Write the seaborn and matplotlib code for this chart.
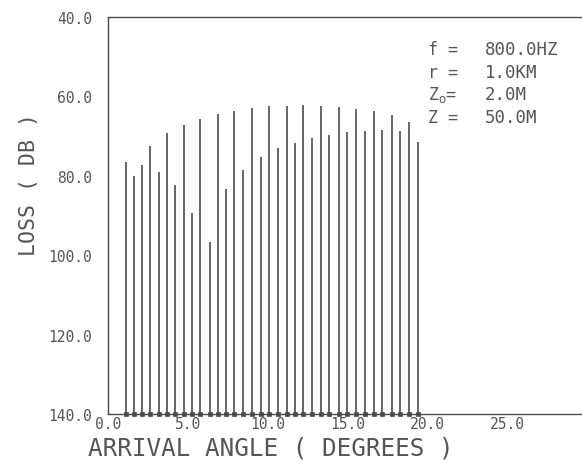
import matplotlib
matplotlib.use("Agg")
import matplotlib.pyplot as plt
import seaborn as sns
import pandas as pd

# ---- data ----
angles = [1.10, 1.60, 2.12, 2.62, 3.15, 3.67, 4.19, 4.71, 5.25, 5.74,
          6.34, 6.85, 7.39, 7.89, 8.43, 8.98, 9.54, 10.06, 10.61, 11.17,
          11.69, 12.21, 12.76, 13.32, 13.84, 14.43, 14.95, 15.49, 16.08, 16.63,
          17.17, 17.76, 18.28, 18.86, 19.42]
losses = [76.4, 80.0, 77.3, 72.6, 79.0, 69.2, 82.2, 67.2, 89.4, 65.7,
          96.6, 64.4, 83.3, 63.6, 78.5, 63.0, 75.3, 62.5, 73.1, 62.3,
          71.7, 62.1, 70.5, 62.3, 69.6, 62.6, 68.9, 63.2, 68.6, 63.8,
          68.4, 64.7, 68.6, 66.5, 71.4]
x_ticks = [0, 5, 10, 15, 20, 25]
x_tick_labels = ["0.0", "5.0", "10.0", "15.0", "20.0", "25.0"]
y_ticks = [40, 60, 80, 100, 120, 140]
y_tick_labels = ["40.0", "60.0", "80.0", "100.0", "120.0", "140.0"]
param_names = ["f =", "r =", "Z$_\\mathrm{o}$=", "Z ="]
param_values = ["800.0HZ", "1.0KM", "2.0M", "50.0M"]
baseline = 140.0

df = pd.DataFrame({"angle": angles, "loss": losses})
df["base"] = baseline

sns.set_style("white")
MONO = ["DejaVu Sans Mono", "DejaVu Sans"]
plt.rcParams["font.family"] = MONO
INK = "#4a4a4a"
TXT = "#555555"

fig = plt.figure(figsize=(5.82, 4.64), dpi=100)
ax = fig.add_axes([0.1864, 0.1056, 0.8222, 0.8556])

ax.vlines(df["angle"], df["base"], df["loss"], colors=INK, linewidth=1.2)
sns.scatterplot(data=df, x="angle", y="base", ax=ax, marker="s", s=9,
                color=INK, edgecolor=INK, linewidth=0.5, clip_on=False,
                zorder=3, legend=False)

ax.set_xlim(0, 30)
ax.set_ylim(140, 40)
ax.set_xticks(x_ticks)
ax.set_xticklabels(x_tick_labels)
ax.set_yticks(y_ticks)
ax.set_yticklabels(y_tick_labels)
ax.tick_params(axis="both", direction="in", colors=INK, labelcolor=TXT,
               labelsize=10.5, width=1.0)
ax.tick_params(axis="y", length=7, pad=12)
ax.tick_params(axis="x", length=5, pad=1.5)

for side in ["left", "bottom", "top"]:
    ax.spines[side].set_color(INK)
    ax.spines[side].set_linewidth(1.0)
ax.spines["right"].set_visible(False)

ax.set_xlabel("ARRIVAL ANGLE ( DEGREES )", fontsize=17.5, color=TXT)
ax.xaxis.set_label_coords(0.3396, -0.054)
ax.set_ylabel("LOSS ( DB )", fontsize=15.5, color=TXT)
ax.yaxis.set_label_coords(-0.145, 0.58)

row_y = [0.919, 0.862, 0.805, 0.748]
for name, val, yy in zip(param_names, param_values, row_y):
    ax.text(0.668, yy, name, transform=ax.transAxes, fontsize=12,
            color=TXT, va="center", ha="left")
    ax.text(0.787, yy, val, transform=ax.transAxes, fontsize=12.5,
            color=TXT, va="center", ha="left")

fig.savefig("out.png", dpi=100)
